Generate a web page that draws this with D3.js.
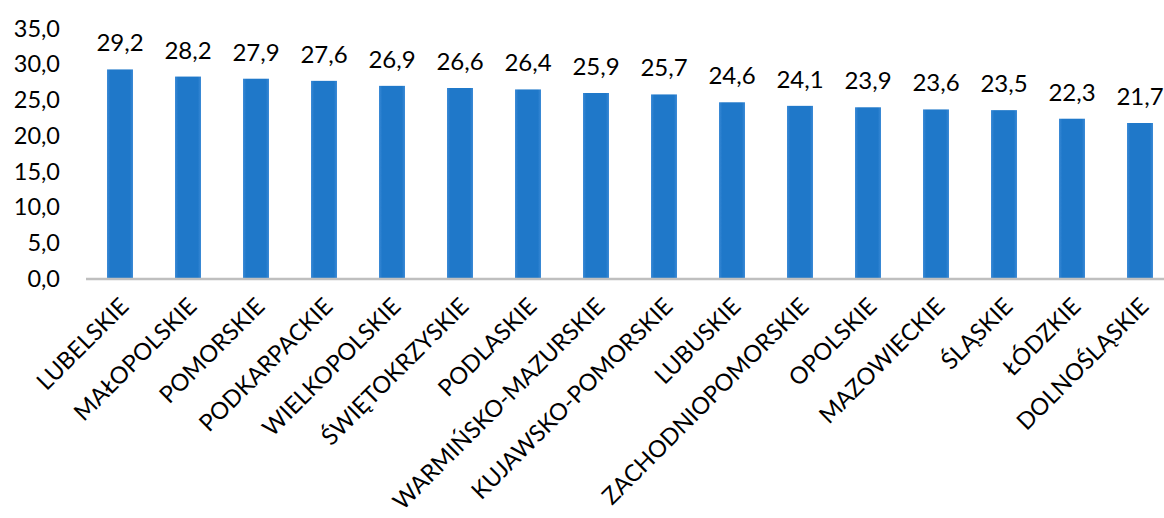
<!DOCTYPE html>
<html><head><meta charset="utf-8">
<script src="https://cdn.jsdelivr.net/npm/d3@7"></script>
<style>body{margin:0;background:#fff}svg{display:block}</style>
</head><body>
<svg id="c" width="1164" height="518"></svg>
<script>
const categories = ["LUBELSKIE","MAŁOPOLSKIE","POMORSKIE","PODKARPACKIE","WIELKOPOLSKIE","ŚWIĘTOKRZYSKIE","PODLASKIE","WARMIŃSKO-MAZURSKIE","KUJAWSKO-POMORSKIE","LUBUSKIE","ZACHODNIOPOMORSKIE","OPOLSKIE","MAZOWIECKIE","ŚLĄSKIE","ŁÓDZKIE","DOLNOŚLĄSKIE"];
const values = [29.2,28.2,27.9,27.6,26.9,26.6,26.4,25.9,25.7,24.6,24.1,23.9,23.6,23.5,22.3,21.7];
const yTicks = [0,5,10,15,20,25,30,35];
const fmt = v => v.toFixed(1).replace(".", ",");
const font = "Lato, 'Open Sans', sans-serif";

const svg = d3.select("#c");
const x = d3.scaleBand().domain(categories).range([86, 86 + 68*categories.length]).paddingInner(0.618).paddingOuter(0.309);
const y = d3.scaleLinear().domain([0,35]).range([278,28]);

const defs = svg.append("defs");
const g = defs.append("linearGradient").attr("id","bg").attr("x1","0").attr("x2","1");
g.append("stop").attr("offset","0").attr("stop-color","#3b8ad6");
g.append("stop").attr("offset","0.12").attr("stop-color","#1f78c9");
g.append("stop").attr("offset","0.88").attr("stop-color","#1f78c9");
g.append("stop").attr("offset","1").attr("stop-color","#3b8ad6");

// y axis labels
const yAxis = d3.axisLeft(y).tickValues(yTicks).tickFormat(fmt).tickSize(0).tickPadding(0);
const ya = svg.append("g").attr("transform","translate(60,0)").call(yAxis);
ya.select(".domain").remove();
ya.selectAll("text").attr("font-family",font).attr("font-size",23.5).attr("fill","#000").attr("dy","0.35em");

// bars
svg.selectAll("rect.bar").data(values).join("rect").attr("class","bar")
  .attr("x",(d,i)=>x(categories[i])).attr("width",x.bandwidth())
  .attr("y",d=>y(d)).attr("height",d=>y(0)-y(d)).attr("fill","url(#bg)");

// value labels
svg.selectAll("text.val").data(values).join("text").attr("class","val")
  .attr("x",(d,i)=>x(categories[i])+x.bandwidth()/2).attr("y",d=>y(d)-18)
  .attr("text-anchor","middle").attr("font-family",font).attr("font-size",24).attr("fill","#000").text(fmt);

// x axis line
svg.append("line").attr("x1",86).attr("x2",1164).attr("y1",y(0)+1).attr("y2",y(0)+1)
  .attr("stroke","#bfbfbf").attr("stroke-width",2.5);

// x labels
const xAxis = d3.axisBottom(x).tickSize(0).tickPadding(0);
const xa = svg.append("g").attr("transform",`translate(0,${y(0)})`).call(xAxis);
xa.select(".domain").remove();
xa.selectAll("text").attr("font-family",font).attr("font-size",23.5).attr("fill","#000")
  .attr("text-anchor","end").attr("dy",null).attr("y",0)
  .attr("transform","translate(10,30) rotate(-45)");
</script>
</body></html>
